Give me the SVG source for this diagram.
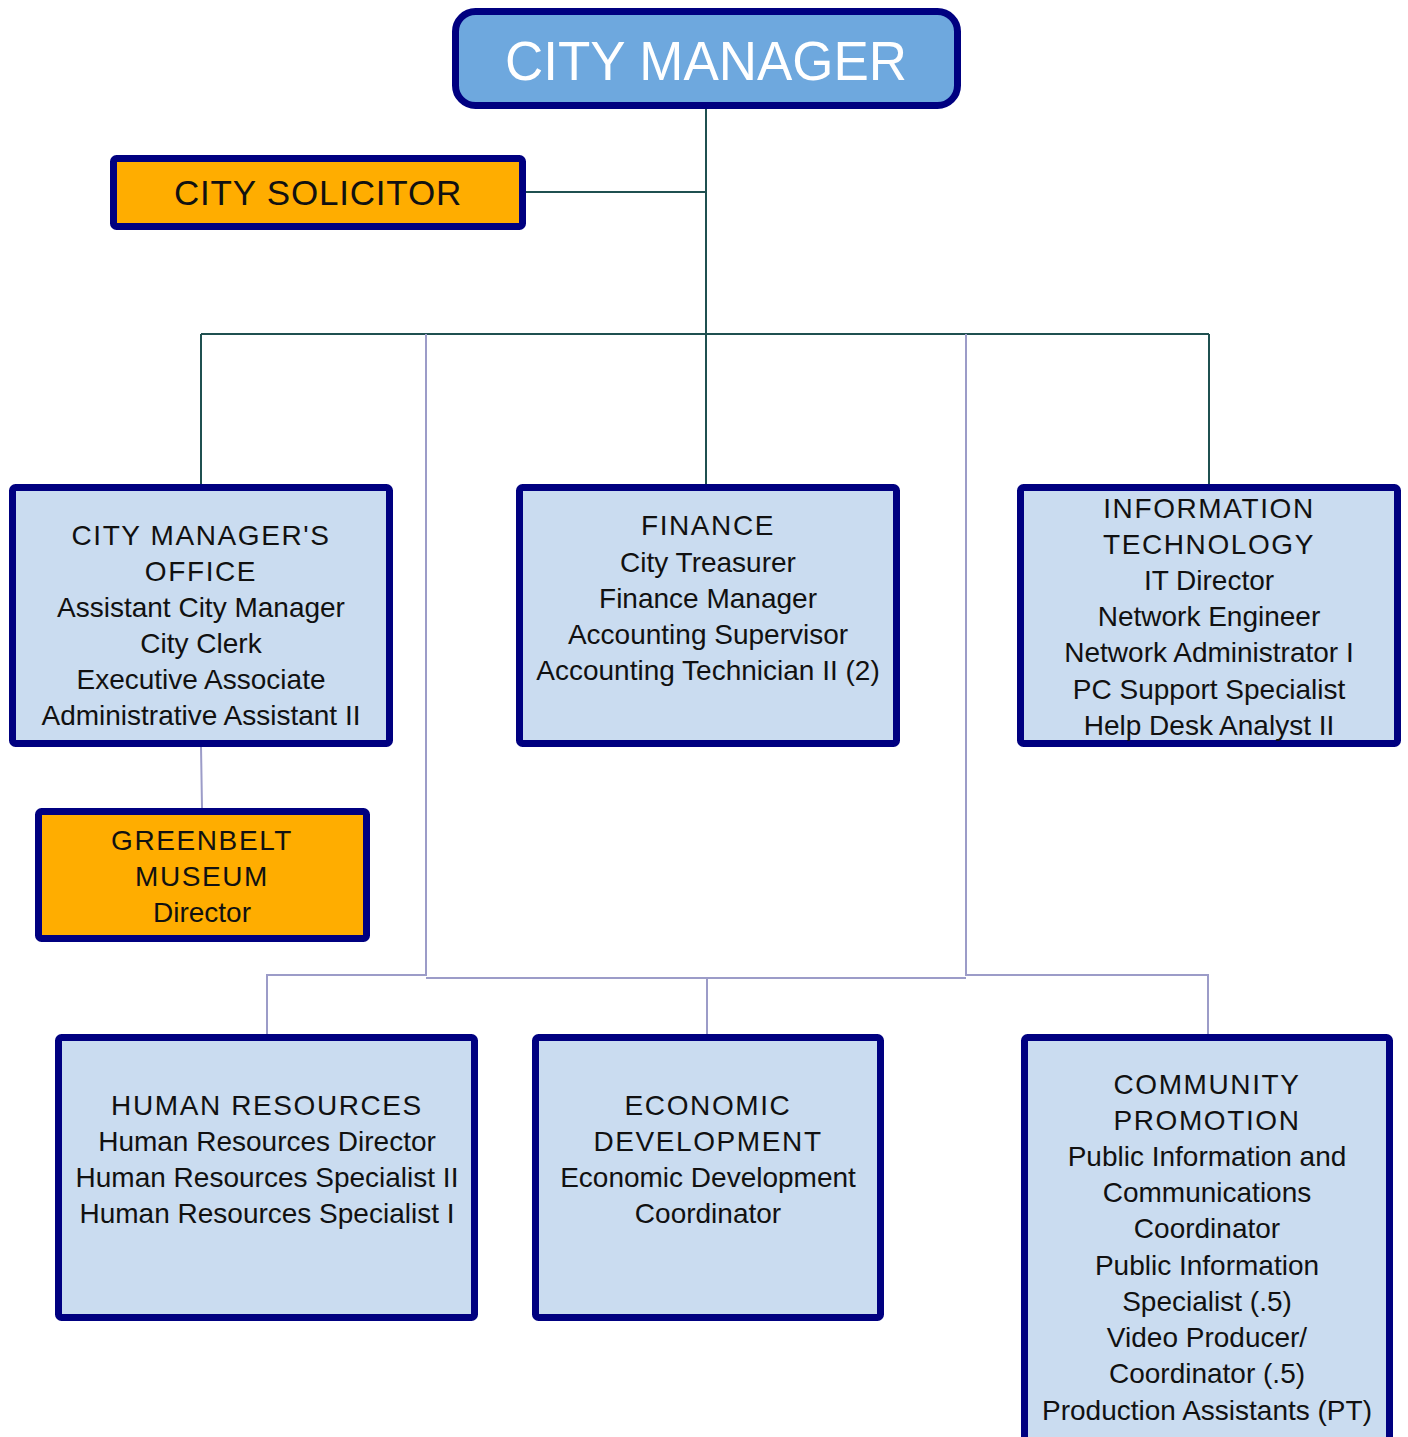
<svg xmlns="http://www.w3.org/2000/svg" width="1408" height="1437" viewBox="0 0 1408 1437">
<style>
.box{fill:#CADCF0;stroke:#000080;stroke-width:7}
.org{fill:#FFAD00;stroke:#000080;stroke-width:7}
.top{fill:#6EA8DE;stroke:#000080;stroke-width:7}
.c1{fill:none;stroke:#1F5050;stroke-width:2}
.c2{fill:none;stroke:#9C9CC8;stroke-width:2}
text{font-family:"Liberation Sans",Arial,sans-serif;fill:#111;text-anchor:middle}
.h{font-size:28px;letter-spacing:1.6px}
.b{font-size:28px}
</style>
<g id="connectors">
<path class="c1" d="M706 107V484M526 192H706M201 334H1209M201 334V484M1209 334V484"/>
<path class="c2" d="M426 334V975H267V1034M426 978H966M966 334V975H1208V1034M707 978V1034M201 746L202 808"/>
</g>
<g id="city-manager">
<rect class="top" x="455.5" y="11.5" width="502" height="94" rx="20"/>
<text x="706" y="80" style="font-size:56px;fill:#fff;letter-spacing:0" textLength="402" lengthAdjust="spacingAndGlyphs">CITY MANAGER</text>
</g>
<g id="city-solicitor">
<rect class="org" x="113.5" y="158.5" width="409" height="68" rx="3"/>
<text x="318" y="205" style="font-size:35px;letter-spacing:0.8px">CITY SOLICITOR</text>
</g>
<g id="city-managers-office">
<rect class="box" x="12.5" y="487.5" width="377" height="256" rx="3"/>
<text x="201" y="545" class="h">CITY MANAGER'S</text>
<text x="201" y="581" class="h">OFFICE</text>
<text x="201" y="617" class="b">Assistant City Manager</text>
<text x="201" y="653" class="b">City Clerk</text>
<text x="201" y="689" class="b">Executive Associate</text>
<text x="201" y="725" class="b">Administrative Assistant II</text>
</g>
<g id="finance">
<rect class="box" x="519.5" y="487.5" width="377" height="256" rx="3"/>
<text x="708" y="535" class="h">FINANCE</text>
<text x="708" y="572" class="b">City Treasurer</text>
<text x="708" y="608" class="b">Finance Manager</text>
<text x="708" y="644" class="b">Accounting Supervisor</text>
<text x="708" y="680" class="b">Accounting Technician II (2)</text>
</g>
<g id="information-technology">
<rect class="box" x="1020.5" y="487.5" width="377" height="256" rx="3"/>
<text x="1209" y="518" class="h">INFORMATION</text>
<text x="1209" y="554" class="h">TECHNOLOGY</text>
<text x="1209" y="590" class="b">IT Director</text>
<text x="1209" y="626" class="b">Network Engineer</text>
<text x="1209" y="662" class="b">Network Administrator I</text>
<text x="1209" y="699" class="b">PC Support Specialist</text>
<text x="1209" y="735" class="b">Help Desk Analyst II</text>
</g>
<g id="greenbelt-museum">
<rect class="org" x="38.5" y="811.5" width="328" height="127" rx="3"/>
<text x="202" y="850" class="h">GREENBELT</text>
<text x="202" y="886" class="h">MUSEUM</text>
<text x="202" y="922" class="b">Director</text>
</g>
<g id="human-resources">
<rect class="box" x="58.5" y="1037.5" width="416" height="280" rx="3"/>
<text x="267" y="1115" class="h">HUMAN RESOURCES</text>
<text x="267" y="1151" class="b">Human Resources Director</text>
<text x="267" y="1187" class="b">Human Resources Specialist II</text>
<text x="267" y="1223" class="b">Human Resources Specialist I</text>
</g>
<g id="economic-development">
<rect class="box" x="535.5" y="1037.5" width="345" height="280" rx="3"/>
<text x="708" y="1115" class="h">ECONOMIC</text>
<text x="708" y="1151" class="h">DEVELOPMENT</text>
<text x="708" y="1187" class="b">Economic Development</text>
<text x="708" y="1223" class="b">Coordinator</text>
</g>
<g id="community-promotion">
<rect class="box" x="1024.5" y="1037.5" width="365" height="420" rx="3"/>
<text x="1207" y="1094" class="h">COMMUNITY</text>
<text x="1207" y="1130" class="h">PROMOTION</text>
<text x="1207" y="1166" class="b">Public Information and</text>
<text x="1207" y="1202" class="b">Communications</text>
<text x="1207" y="1238" class="b">Coordinator</text>
<text x="1207" y="1275" class="b">Public Information</text>
<text x="1207" y="1311" class="b">Specialist (.5)</text>
<text x="1207" y="1347" class="b">Video Producer/</text>
<text x="1207" y="1383" class="b">Coordinator (.5)</text>
<text x="1207" y="1420" class="b">Production Assistants (PT)</text>
</g>
</svg>
